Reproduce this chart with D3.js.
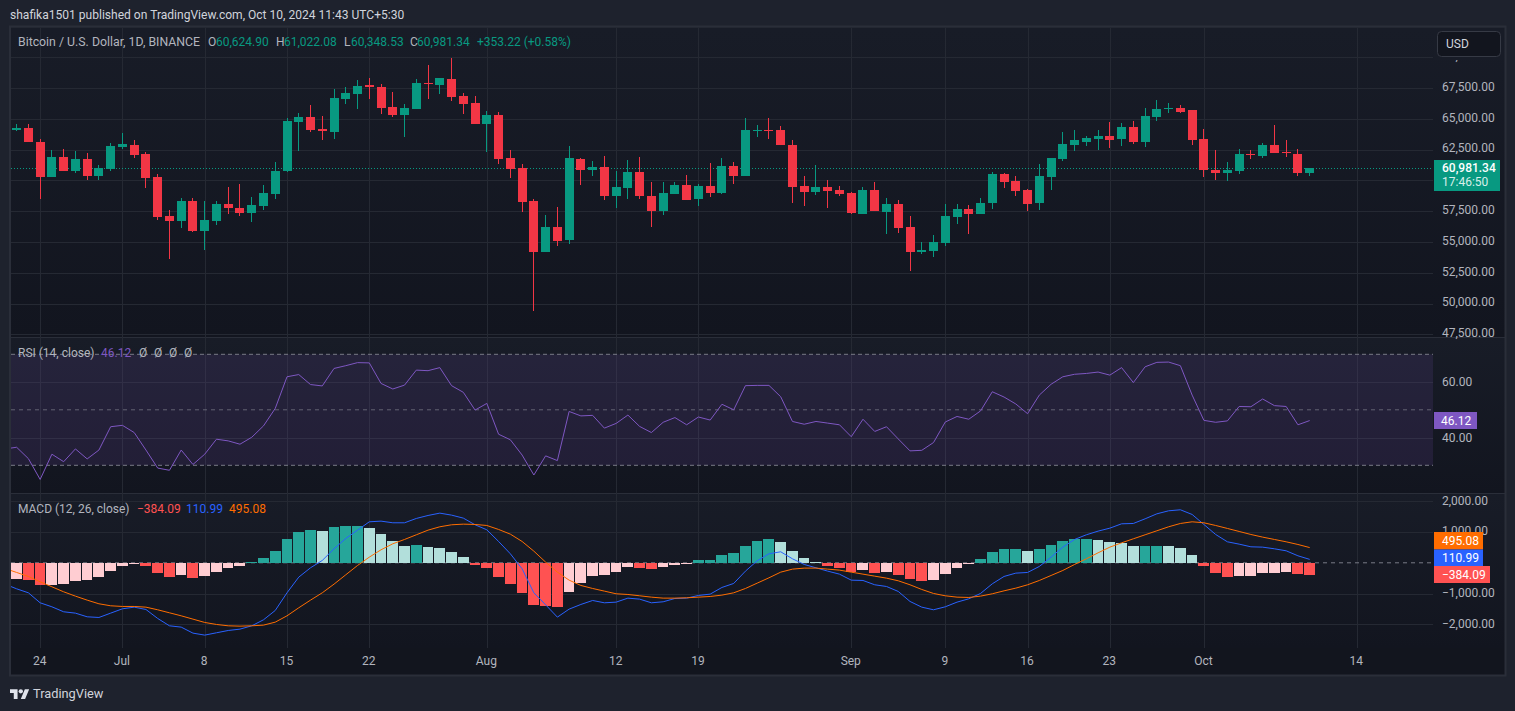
<!DOCTYPE html>
<html>
<head>
<meta charset="utf-8">
<script src="https://cdn.jsdelivr.net/npm/d3@7/dist/d3.min.js"></script>
<style>
html,body{margin:0;padding:0;background:#1e222d;overflow:hidden}
svg{display:block}
text{font-family:Roboto,"Noto Sans",sans-serif}
</style>
</head>
<body>
<svg id="c" width="1515" height="711"></svg>
<script>
// ---- data (first candle 22 Jun 2024) ----
const opens=[64105,64267,63130,60288,61912,60775,61750,60369,60938,62724,
62887,62156,60288,57121,56715,58340,55904,56715,58095,57770,
57364,57933,58907,60775,64754,65160,64186,63942,66622,67028,
67760,67597,65972,65323,65810,67922,67760,68246,66866,66297,
64592,65323,61831,61019,58340,54197,56227,55172,61750,60856,
61100,58745,59394,60694,58745,57527,58907,59638,58501,59557,
58988,61181,60369,64024,64105,64105,62887,59557,59070,59476,
59232,58988,57283,59232,57446,58095,56227,54197,54278,54928,
57039,57689,57283,58177,60531,59963,59232,58177,60288,61750,
62887,63130,63374,63617,63374,64348,63130,65160,65810,65891,
65729,63374,60856,60613,60775,62156,61993,62887,62318,62156,60624.90];
const highs=[64592,64592,63374,62480,62561,62399,62237,61262,63049,63861,
63293,62318,60531,57608,58582,58582,58340,58340,59476,59719,
58663,59638,61506,65098,65485,66135,65242,67434,67597,68165,
68328,67841,67191,66216,68246,69383,68328,69952,67110,66866,
65648,65566,62480,61344,58501,57202,57851,62805,61831,61587,
61993,60775,61668,61912,59882,59882,59882,60450,59719,61425,
61831,61506,65079,64511,65098,64430,63293,60369,61262,60044,
59557,59070,59476,59882,58582,58420,57121,55009,55578,58095,
58095,58014,58582,60694,60613,60369,59313,61344,61831,63942,
64105,63617,64105,64754,64673,64836,65891,66541,66297,66135,
65729,64186,62480,61506,62561,62480,63049,64511,63293,62561,61022.08];
const lows=[64050,63130,58501,60288,60775,60613,60044,60044,60775,62561,
61831,59394,56796,53629,56146,55821,54360,56390,57283,57121,
56635,57608,58501,60694,62399,63942,63293,63374,66216,65810,
66622,65404,65160,63536,65810,66622,67028,66460,65404,64592,
62318,61344,60207,57446,49406,54197,54684,54847,59638,60369,
58420,57770,58501,58501,56227,57202,58907,58420,57933,58663,
58907,59719,60369,63536,63374,62887,58177,57933,58826,57770,
58745,57283,57283,57527,55659,55740,52654,54035,53791,54684,
56471,55659,57283,57689,59394,58745,57527,57608,59232,61587,
62399,62805,62480,62643,62805,62968,62724,64836,65485,65485,
62887,60288,60044,59963,60531,61750,61831,62237,61912,60369,60348.53];
const closes=[64267,63130,60288,61912,60775,61750,60369,61019,62805,62968,
62075,60207,57039,56715,58340,55904,56796,58095,57770,57364,
58014,58988,60775,64836,65160,64105,64024,66703,67110,67678,
67597,65891,65323,65891,67922,67841,68328,66784,66216,64592,
65323,61750,60938,58258,54197,56227,55090,61831,60856,61100,
58745,59476,60694,58745,57527,58988,59638,58420,59557,58988,
61181,60369,64105,64105,64024,62887,59476,59070,59476,59151,
58907,57364,59232,57527,58095,56146,54197,54360,55009,57121,
57689,57283,58177,60531,59882,59151,58095,60369,61831,62968,
63293,63455,63617,63293,64348,63130,65242,65810,65891,65566,
63293,60856,60613,60856,62156,62075,62887,62237,62237,60613,60981.34];
// indicators start one day earlier (21 Jun 2024)
const rsi=[35.9,36.5,32.4,24.9,34.0,31.3,35.9,32.3,35.5,43.9,44.4,41.8,35.5,29.0,28.2,35.5,30.3,34.0,39.4,38.8,
37.6,40.1,44.2,50.5,61.9,62.7,59.1,58.6,64.9,65.9,67.0,66.9,59.5,57.5,58.9,64.3,64.1,65.2,58.7,56.3,
49.9,52.3,41.2,39.2,33.7,26.5,33.4,31.7,49.4,47.8,48.0,43.4,45.1,48.1,44.0,41.8,45.5,47.2,44.6,47.4,
46.3,52.0,50.0,58.7,58.8,58.8,54.7,45.8,44.8,45.8,45.2,44.6,40.3,46.6,42.2,43.9,39.5,35.2,35.4,38.2,
45.6,47.6,46.6,49.6,56.5,54.6,52.1,48.6,55.3,59.2,61.9,62.8,63.1,63.6,62.5,65.2,59.8,65.5,67.1,67.2,
65.9,55.3,46.2,45.5,46.0,51.2,51.1,53.9,51.5,51.2,44.6,46.12];
const macdLine=[-694,-846,-976,-1301,-1431,-1593,-1637,-1756,-1778,-1637,-1496,-1442,-1518,-1810,-2049,-2092,-2287,-2352,-2276,-2201,
-2157,-2049,-1854,-1550,-976,-466,-163,76,455,791,1062,1333,1355,1301,1301,1442,1539,1615,1550,1453,
1236,1073,694,293,-195,-976,-1366,-1767,-1507,-1355,-1225,-1301,-1279,-1149,-1182,-1301,-1268,-1160,-1149,-1062,
-1019,-802,-672,-271,65,293,358,130,-54,-163,-271,-369,-564,-575,-715,-770,-932,-1257,-1442,-1528,
-1431,-1279,-1171,-997,-683,-444,-336,-314,-119,184,509,759,911,1030,1127,1268,1279,1431,1593,1691,
1724,1572,1247,921,683,607,520,509,455,390,228,110.99];
const signalLine=[-184,-314,-444,-618,-780,-943,-1084,-1214,-1333,-1398,-1420,-1420,-1442,-1528,-1626,-1724,-1832,-1940,-2005,-2049,
-2060,-2049,-2027,-1930,-1724,-1463,-1214,-976,-694,-390,-87,184,423,618,759,911,1062,1171,1236,1257,
1247,1214,1084,932,694,379,22,-304,-564,-737,-835,-921,-1008,-1030,-1073,-1117,-1149,-1149,-1138,-1117,
-1095,-1051,-976,-835,-661,-488,-304,-206,-173,-173,-206,-238,-304,-369,-434,-499,-585,-715,-867,-997,
-1073,-1117,-1127,-1084,-1008,-911,-824,-715,-575,-412,-249,-54,130,325,509,650,781,911,1041,1171,
1279,1333,1301,1214,1117,1019,921,835,759,683,596,495.08];
const histogram=[-600,-542,-575,-737,-715,-705,-607,-575,-477,-282,-119,-54,-119,-347,-477,-412,-509,-444,-314,-184,
-119,20,141,369,759,986,1051,1019,1149,1182,1192,1117,921,694,553,575,499,466,336,173,
-87,-184,-477,-705,-997,-1388,-1420,-1453,-965,-672,-444,-412,-314,-141,-163,-217,-152,-60,-54,76,
81,238,304,531,694,759,661,369,141,22,-119,-184,-314,-249,-320,-314,-412,-542,-607,-575,
-379,-184,-54,108,336,434,444,369,434,564,694,759,764,726,661,629,531,537,542,531,
466,238,-119,-347,-477,-444,-440,-347,-341,-314,-380,-384.09];
const priceTicks=[70000,67500,65000,62500,60000,57500,55000,52500,50000,47500];
const rsiGrid=[60,40];
const rsiBands=[70,50,30];
const macdTicks=[2000,1000,-1000,-2000];
const timeTickDates=["2024-06-24","2024-07-01","2024-07-08","2024-07-15","2024-07-22","2024-08-01","2024-08-12","2024-08-19","2024-09-01","2024-09-09","2024-09-16","2024-09-23","2024-10-01","2024-10-14"];
const timeTickLabels=["24","Jul","8","15","22","Aug","12","19","Sep","9","16","23","Oct","14"];
const lastPrice=60981.34, countdown="17:46:50";

// ---- layout ----
const L=11,R=1433,frameR=1505;
const panes={main:[28,337],rsi:[338,493],macd:[494,648]};
const C={up:"#089981",down:"#f23645",grid:"#252933",text:"#b2b5be",axis:"#2a2e39",
 hDG:"#26a69a",hLG:"#b2dfdb",hDR:"#ff5252",hLR:"#ffcdd2",rsi:"#7e57c2",macd:"#2962ff",sig:"#ff6d00"};

const day=864e5;
const x=d3.scaleUtc().domain([new Date(Date.UTC(2024,5,24)),new Date(Date.UTC(2024,9,14))]).range([40.15,1356.7]);
const dateAt=i=>new Date(Date.UTC(2024,5,22)+i*day);      // candles
const dateInd=i=>new Date(Date.UTC(2024,5,21)+i*day);     // indicators
const yP=d3.scaleLinear().domain([47500,70000]).range([334.3,57.3]);
const yR=d3.scaleLinear().domain([30,70]).range([465.3,354.3]);
const yM=d3.scaleLinear().domain([-2000,2000]).range([624.3,501.3]);

const svg=d3.select("#c");
const defs=svg.append("defs");
Object.entries(panes).forEach(([k,[a,b]])=>{
  const g=defs.append("linearGradient").attr("id","bg-"+k).attr("x1",0).attr("x2",0).attr("y1",0).attr("y2",1);
  g.append("stop").attr("offset",0).attr("stop-color","#181c27");
  g.append("stop").attr("offset",1).attr("stop-color","#12151f");
  defs.append("clipPath").attr("id","clip-"+k).append("rect").attr("x",L).attr("y",a).attr("width",R-L).attr("height",b-a);
});

// frame
svg.append("rect").attr("width",1515).attr("height",711).attr("fill","#1e222d");
svg.append("rect").attr("x",L).attr("y",28).attr("width",frameR-L).attr("height",647).attr("fill","#12151e");
Object.entries(panes).forEach(([k,[a,b]])=>{
  svg.append("rect").attr("x",L).attr("y",a).attr("width",frameR-L).attr("height",b-a).attr("fill",`url(#bg-${k})`);
});
svg.append("rect").attr("x",10).attr("y",26.5).attr("width",1495.5).attr("height",649).attr("fill","none").attr("stroke","#2a2e39").attr("stroke-width",2);
[337.5,493.5].forEach(y=>svg.append("line").attr("x1",L).attr("x2",frameR).attr("y1",y).attr("y2",y).attr("stroke","#2a2e39"));

// vertical grid through a bottom axis
const gridX=svg.append("g").attr("transform","translate(0,28)")
  .call(d3.axisBottom(x).tickValues(timeTickDates.map(d=>new Date(d+"T00:00Z"))).tickSize(620).tickFormat(""));
gridX.select(".domain").remove();
gridX.selectAll("line").attr("stroke",C.grid).attr("shape-rendering","crispEdges");

function hGrid(scale,vals){
  const g=svg.append("g").attr("transform",`translate(${L},0)`)
    .call(d3.axisRight(scale).tickValues(vals).tickSize(R-L).tickFormat(""));
  g.select(".domain").remove();
  g.selectAll("line").attr("stroke",C.grid).attr("shape-rendering","crispEdges");
}
hGrid(yP,priceTicks); hGrid(yR,rsiGrid); hGrid(yM,macdTicks);

// last price dotted line
svg.append("line").attr("x1",L).attr("x2",R).attr("y1",Math.round(yP(lastPrice))+.5).attr("y2",Math.round(yP(lastPrice))+.5)
  .attr("stroke",C.up).attr("stroke-dasharray","1 2");

// candles
const gC=svg.append("g").attr("clip-path","url(#clip-main)").attr("shape-rendering","crispEdges");
const cs=gC.selectAll("g").data(d3.range(opens.length)).join("g")
  .attr("fill",i=>closes[i]>=opens[i]?C.up:C.down);
cs.append("rect").attr("x",i=>Math.floor(x(dateAt(i)))).attr("width",1)
  .attr("y",i=>yP(highs[i])).attr("height",i=>yP(lows[i])-yP(highs[i]));
cs.append("rect").attr("x",i=>Math.floor(x(dateAt(i)))-4).attr("width",9)
  .attr("y",i=>Math.round(yP(Math.max(opens[i],closes[i]))))
  .attr("height",i=>Math.max(1,Math.round(yP(Math.min(opens[i],closes[i])))-Math.round(yP(Math.max(opens[i],closes[i])))));

// RSI
svg.append("rect").attr("x",L).attr("width",R-L).attr("y",yR(70)).attr("height",yR(30)-yR(70)).attr("fill",C.rsi).attr("fill-opacity",.14);
rsiBands.forEach(v=>svg.append("line").attr("x1",L).attr("x2",R).attr("y1",yR(v)).attr("y2",yR(v))
  .attr("stroke","#787b86").attr("stroke-dasharray",v==50?"4 4":"4 3").attr("stroke-opacity",v==50?.75:1));
const line=(yS,dS)=>d3.line().x((d,i)=>x(dS(i))).y(d=>yS(d));
svg.append("path").attr("clip-path","url(#clip-rsi)").attr("d",line(yR,dateInd)(rsi)).attr("fill","none").attr("stroke",C.rsi).attr("stroke-width",1);

// MACD
svg.append("line").attr("x1",L).attr("x2",R).attr("y1",yM(0)).attr("y2",yM(0)).attr("stroke","#787b86").attr("stroke-dasharray","4 4");
const hColor=i=>{
  if(i===0) return C.hLR;
  const v=histogram[i],p=histogram[i-1];
  return v>=0?(v>=p?C.hDG:C.hLG):(v<p?C.hDR:C.hLR);
};
svg.append("g").attr("clip-path","url(#clip-macd)").attr("shape-rendering","crispEdges")
  .selectAll("rect").data(histogram).join("rect")
  .attr("x",(d,i)=>Math.floor(x(dateInd(i)))-5)
  .attr("width",(d,i)=>Math.floor(x(dateInd(i+1)))-Math.floor(x(dateInd(i)))-1)
  .attr("y",d=>Math.min(yM(d),yM(0))).attr("height",d=>Math.max(1,Math.abs(yM(d)-yM(0))))
  .attr("fill",(d,i)=>hColor(i));
svg.append("path").attr("clip-path","url(#clip-macd)").attr("d",line(yM,dateInd)(macdLine)).attr("fill","none").attr("stroke",C.macd);
svg.append("path").attr("clip-path","url(#clip-macd)").attr("d",line(yM,dateInd)(signalLine)).attr("fill","none").attr("stroke",C.sig);

// axes labels
function yAxis(scale,vals,fmt,dy){
  const g=svg.append("g").attr("transform",`translate(${R},${dy})`)
    .call(d3.axisRight(scale).tickValues(vals).tickSize(0).tickPadding(9).tickFormat(fmt));
  g.select(".domain").remove();
  g.selectAll("text").attr("fill",C.text).attr("font-size",12);
}
yAxis(yP,priceTicks,d3.format(",.2f"),-1.5);
yAxis(yR,rsiGrid,d3.format(".2f"),0);
yAxis(yM,macdTicks,d3.format(",.2f"),-1);
const xa=svg.append("g").attr("transform","translate(-1,648)")
  .call(d3.axisBottom(x).tickValues(timeTickDates.map(d=>new Date(d+"T00:00Z"))).tickSize(0).tickPadding(8)
  .tickFormat((d,i)=>timeTickLabels[i]));
xa.select(".domain").remove();
xa.selectAll("text").attr("fill",C.text).attr("font-size",12);

// USD button (covers the top price label except its comma)
svg.append("rect").attr("x",1434).attr("y",29).attr("width",70).attr("height",31).attr("fill","#181c27");
svg.append("rect").attr("x",1437.5).attr("y",31.5).attr("width",63).attr("height",25).attr("rx",4).attr("fill","#12151e").attr("stroke","#363a45");
txt("USD",1446,48,"#d1d4dc",12);

// badges
function badge(x0,x1,y0,y1,fill,label,tx,ty){
  svg.append("rect").attr("x",x0).attr("y",y0).attr("width",x1-x0).attr("height",y1-y0).attr("fill",fill);
  txt(label,tx,ty,"#fff",12);
}
function txt(s,xx,yy,fill,size,weight){
  return svg.append("text").attr("x",xx).attr("y",yy).attr("fill",fill).attr("font-size",size).attr("font-weight",weight||400).text(s);
}
svg.append("rect").attr("x",1434).attr("y",160).attr("width",66).attr("height",31).attr("fill",C.up);
txt(d3.format(",.2f")(lastPrice),1442,171.5,"#fff",12,500);
txt(countdown,1442,186,"#d8efe9",12);
badge(1434,1477,412,429,C.rsi,d3.format(".2f")(rsi[rsi.length-1]),1441,425);
badge(1434,1483,532,549.5,C.sig,d3.format(".2f")(signalLine[signalLine.length-1]),1442,545);
badge(1434,1483,549.5,566,C.macd,d3.format(".2f")(macdLine[macdLine.length-1]),1442,562);
badge(1434,1490,566,583,C.hDR,d3.format(",.2f")(histogram[histogram.length-1]),1442,579);

// header and legends
txt("shafika1501 published on TradingView.com, Oct 10, 2024 11:43 UTC+5:30",10,19,"#d1d4dc",12.05);
const titleRow=[["Bitcoin / U.S. Dollar, 1D, BINANCE",18,C.text,12.3],["O",208,C.text,12],["60,624.90",216,C.up,12],["H",276,C.text,12],["61,022.08",284,C.up,12],["L",344,C.text,12],["60,348.53",351,C.up,12],["C",410,C.text,12],["60,981.34",417,C.up,12],["+353.22 (+0.58%)",477,C.up,12]];
titleRow.forEach(d=>txt(d[0],d[1],46,d[2],d[3]));
[["RSI (14, close)",18,C.text],["46.12",101,C.rsi],["Ø",139,C.text],["Ø",154,C.text],["Ø",169,C.text],["Ø",184,C.text]].forEach(d=>txt(d[0],d[1],357,d[2],12));
[["MACD (12, 26, close)",18,C.text],["−384.09",137,C.hDR],["110.99",186,C.macd],["495.08",229,C.sig]].forEach(d=>txt(d[0],d[1],513,d[2],12));

// logo
const lg=svg.append("g").attr("transform","translate(10,687) scale(0.54)").attr("fill","#e0e3eb");
lg.append("path").attr("d","M14 22H7V11H0V4h14v18zM28 22h-8l7.5-18h8L28 22z");
lg.append("circle").attr("cx",20).attr("cy",8).attr("r",4);
txt("TradingView",33,698,"#d1d4dc",12.8);
</script>
</body>
</html>
